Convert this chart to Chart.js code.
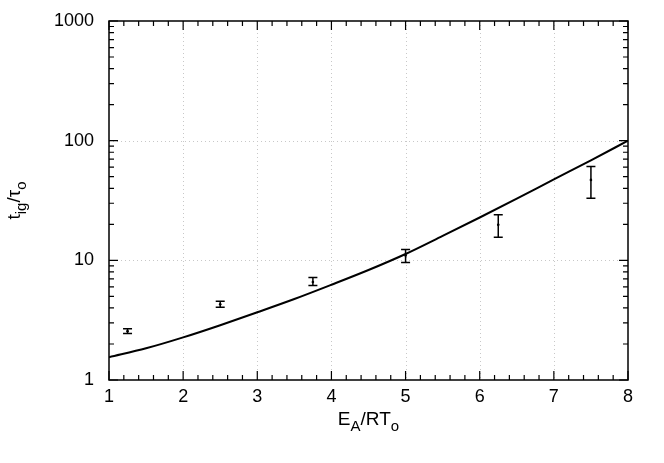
<!DOCTYPE html>
<html>
<head>
<meta charset="utf-8">
<script src="https://cdn.jsdelivr.net/npm/chart.js@4.4.1/dist/chart.umd.min.js"></script>
<style>
  html, body { margin: 0; padding: 0; background: #fff; }
  #wrap { width: 664px; height: 463px; }
</style>
</head>
<body>
<div id="wrap"><canvas id="c" width="664" height="463"></canvas></div>
<script>
// ---- data ----
const xTicks = [1, 2, 3, 4, 5, 6, 7, 8];
const yTicks = [1, 10, 100, 1000];

const pointX   = [1.25, 2.5, 3.75, 5, 6.25, 7.5];
const pointY   = [2.56, 4.30, 6.6, 11.0, 19.8, 47.0];
const errLow   = [2.45, 4.06, 6.16, 9.57, 15.6, 33.0];
const errHigh  = [2.68, 4.55, 7.18, 12.3, 24.0, 60.7];

const curveX = [1, 1.5, 2, 2.5, 3, 3.5, 4, 4.5, 5, 5.5, 6, 6.5, 7, 7.5, 8];
const curveY = [1.55, 1.84, 2.27, 2.87, 3.68, 4.75, 6.25, 8.3, 11.3, 16.0, 22.8, 32.8, 47.5, 68.5, 100];

const xTitle = [["E", false], ["A", true], ["/RT", false], ["o", true]];
const yTitle = [["t", false], ["ig", true], ["/τ", false], ["o", true]];

const FONT = '"Liberation Sans", Arial, Helvetica, sans-serif';
const TARGET = { left: 109, top: 21, right: 628, bottom: 380 };

function drawRich(ctx, parts, x, y, size, subSize, subDrop) {
  let cx = x;
  for (const [txt, sub] of parts) {
    ctx.font = (sub ? subSize : size) + 'px ' + FONT;
    ctx.fillText(txt, cx, sub ? y + subDrop : y);
    cx += ctx.measureText(txt).width;
  }
  return cx - x;
}
function richWidth(ctx, parts, size, subSize) {
  let w = 0;
  for (const [txt, sub] of parts) {
    ctx.font = (sub ? subSize : size) + 'px ' + FONT;
    w += ctx.measureText(txt).width;
  }
  return w;
}

const decor = {
  id: 'decor',
  beforeDatasetsDraw(chart) {
    const {ctx, chartArea: a, scales: {x, y}} = chart;
    ctx.save();
    ctx.strokeStyle = '#c8c8c8';
    ctx.lineWidth = 1;
    ctx.setLineDash([1, 3]);
    for (const v of xTicks) {
      const px = Math.round(x.getPixelForValue(v)) + 0.5;
      if (px <= a.left + 1 || px >= a.right - 1) continue;
      ctx.beginPath(); ctx.moveTo(px, a.top); ctx.lineTo(px, a.bottom); ctx.stroke();
    }
    for (const v of yTicks) {
      const py = Math.round(y.getPixelForValue(v)) + 0.5;
      if (py <= a.top + 1 || py >= a.bottom - 1) continue;
      ctx.beginPath(); ctx.moveTo(a.left, py); ctx.lineTo(a.right, py); ctx.stroke();
    }
    ctx.restore();
  },
  afterDatasetsDraw(chart) {
    const {ctx, chartArea: a, scales: {x, y}} = chart;
    ctx.save();
    ctx.strokeStyle = '#000';
    ctx.lineWidth = 1.5;
    ctx.setLineDash([]);
    // error bars
    for (let i = 0; i < pointX.length; i++) {
      const px = x.getPixelForValue(pointX[i]);
      const y0 = y.getPixelForValue(errLow[i]);
      const y1 = y.getPixelForValue(errHigh[i]);
      ctx.beginPath();
      ctx.moveTo(px, y0); ctx.lineTo(px, y1);
      ctx.moveTo(px - 4.5, y0); ctx.lineTo(px + 4.5, y0);
      ctx.moveTo(px - 4.5, y1); ctx.lineTo(px + 4.5, y1);
      ctx.stroke();
    }
    // frame
    ctx.lineWidth = 1.5;
    ctx.strokeRect(a.left, a.top, a.right - a.left, a.bottom - a.top);
    // ticks
    ctx.lineWidth = 1.2;
    ctx.beginPath();
    for (let v = 1; v <= 8.0001; v += 0.2) {
      const major = Math.abs(v - Math.round(v)) < 1e-6;
      const len = major ? 9 : 5;
      const px = x.getPixelForValue(v);
      ctx.moveTo(px, a.bottom); ctx.lineTo(px, a.bottom - len);
      ctx.moveTo(px, a.top); ctx.lineTo(px, a.top + len);
    }
    for (let d = 1; d < 1000; d *= 10) {
      for (let m = 1; m <= 10; m++) {
        const v = d * m;
        const major = (m === 1 || m === 10);
        const len = major ? 9 : 5;
        const py = y.getPixelForValue(v);
        ctx.moveTo(a.left, py); ctx.lineTo(a.left + len, py);
        ctx.moveTo(a.right, py); ctx.lineTo(a.right - len, py);
      }
    }
    ctx.stroke();
    // axis titles
    ctx.fillStyle = '#000';
    ctx.textBaseline = 'alphabetic';
    const cxm = (a.left + a.right) / 2;
    const wx = richWidth(ctx, xTitle, 19, 15);
    drawRich(ctx, xTitle, cxm - wx / 2, a.bottom + 45, 19, 15, 6);
    ctx.save();
    ctx.translate(20, (a.top + a.bottom) / 2);
    ctx.rotate(-Math.PI / 2);
    const wy = richWidth(ctx, yTitle, 19, 15);
    drawRich(ctx, yTitle, -wy / 2, 0, 19, 15, 6);
    ctx.restore();
    ctx.restore();
  }
};

const curveData = curveX.map((v, i) => ({x: v, y: curveY[i]}));
const pointData = pointX.map((v, i) => ({x: v, y: pointY[i]}));

const padding = { left: 0, top: 21, right: 36, bottom: 0 };

const chart = new Chart(document.getElementById('c'), {
  type: 'scatter',
  data: {
    datasets: [
      {
        type: 'line',
        data: curveData,
        borderColor: '#000',
        borderWidth: 2,
        pointRadius: 0,
        fill: false,
        cubicInterpolationMode: 'monotone'
      },
      {
        type: 'scatter',
        data: pointData,
        backgroundColor: '#000',
        borderColor: '#000',
        pointRadius: 1.3,
        borderWidth: 0
      }
    ]
  },
  options: {
    responsive: false,
    animation: false,
    events: [],
    layout: { padding: padding },
    plugins: { legend: { display: false }, tooltip: { enabled: false } },
    scales: {
      x: {
        type: 'linear',
        min: 1, max: 8,
        grid: { display: false, drawTicks: false },
        border: { display: false },
        afterBuildTicks: s => { s.ticks = xTicks.map(v => ({value: v})); },
        afterFit: s => { s.height = 83; s.paddingLeft = 0; s.paddingRight = 0; },
        ticks: {
          color: '#000',
          font: { family: FONT, size: 18 },
          padding: 6,
          maxRotation: 0,
          callback: v => String(v)
        }
      },
      y: {
        type: 'logarithmic',
        min: 1, max: 1000,
        grid: { display: false, drawTicks: false },
        border: { display: false },
        afterBuildTicks: s => { s.ticks = yTicks.map(v => ({value: v})); },
        afterFit: s => { s.width = 109; s.paddingTop = 0; s.paddingBottom = 0; },
        ticks: {
          color: '#000',
          font: { family: FONT, size: 18 },
          padding: 15,
          callback: v => String(v)
        }
      }
    }
  },
  plugins: [decor]
});

// nudge the layout padding so the plot area lands where the reference has it
for (let k = 0; k < 3; k++) {
  const a = chart.chartArea;
  const dl = TARGET.left - a.left, dt = TARGET.top - a.top;
  const dr = a.right - TARGET.right, db = a.bottom - TARGET.bottom;
  if (Math.abs(dl) < 0.5 && Math.abs(dt) < 0.5 && Math.abs(dr) < 0.5 && Math.abs(db) < 0.5) break;
  padding.left = Math.max(0, padding.left + dl);
  padding.top = Math.max(0, padding.top + dt);
  padding.right = Math.max(0, padding.right + dr);
  padding.bottom = Math.max(0, padding.bottom + db);
  chart.options.layout.padding = Object.assign({}, padding);
  chart.update();
}
</script>
</body>
</html>
